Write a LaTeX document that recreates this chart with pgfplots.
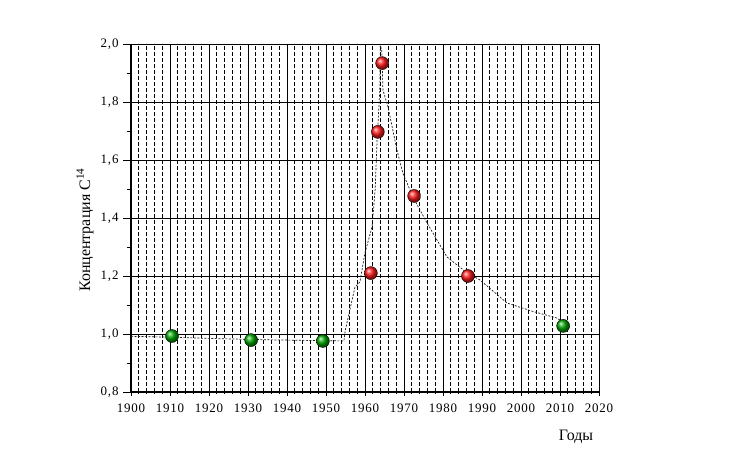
\documentclass[border=0pt]{standalone}
\usepackage{fontspec}
\setmainfont{Liberation Serif}
\newfontfamily\tickfont[LetterSpace=6]{Liberation Serif}
\usepackage{pgfplots}
\pgfplotsset{compat=1.18}
\usetikzlibrary{shadings}
\begin{document}
\begin{tikzpicture}[x=1bp,y=1bp]
\useasboundingbox (-131,-58) rectangle (603,392);
\begin{axis}[
  at={(0,0)}, anchor=south west,
  scale only axis, width=468bp, height=348bp,
  xmin=1900, xmax=2020, ymin=0.8, ymax=2.0,
  xtick={1900,1910,...,2020},
  ytick={0.8,1.0,...,2.01},
  minor x tick num=4,
  minor y tick num=1,
  xmajorgrids, ymajorgrids, xminorgrids,
  major grid style={black, line width=0.7bp},
  minor grid style={black, line width=0.7bp, dash pattern=on 3.5bp off 2.5bp},
  axis line style={black, line width=0.8bp},
  axis x line*=bottom, axis y line*=left,
  tick style={black, line width=0.8bp},
  xtick align=center, ytick align=outside,
  major tick length=8bp, minor tick length=4bp,
  xticklabel style={font=\tickfont\fontsize{13}{13}\selectfont, yshift=-4bp},
  yticklabel style={font=\tickfont\fontsize{13}{13}\selectfont, xshift=-1bp},
  /pgf/number format/assume math mode=true,
  /pgf/number format/.cd, use comma, fixed, fixed zerofill, precision=1,
  /tikz/.cd,
  xticklabel={\pgfmathprintnumber[precision=0,fixed zerofill=false,set thousands separator={}]{\tick}},
  clip=false,
]
% right and top borders
\draw[black, line width=0.7bp] (rel axis cs:1,0) -- (rel axis cs:1,1) -- (rel axis cs:0,1);
\draw[black, line width=1.6bp, dash pattern=on 3.5bp off 2.5bp] (axis cs:1954,0.8) -- (axis cs:1954,2.0);
\draw[black, line width=1.6bp] (rel axis cs:0,0) -- (rel axis cs:0,1);
\draw[black, line width=1.6bp] (rel axis cs:0,0) -- (rel axis cs:1,0);
% trend line
\addplot[draw=black!90, line width=0.7bp, dash pattern=on 2bp off 1.5bp, mark=none] coordinates {
(1900,0.992) (1910,0.989) (1922,0.984) (1935,0.980) (1954.6,0.976) (1954.9,1.01)
(1957.4,1.16) (1958.7,1.18) (1960,1.28) (1961.8,1.369) (1962.6,1.497) (1963.1,1.669)
(1963.8,1.841) (1963.9,1.995) (1964.3,1.979) (1964.6,1.841) (1965.9,1.783) (1968.2,1.634)
(1969.7,1.555) (1972.3,1.472) (1975.9,1.383) (1981.0,1.266) (1986.2,1.21) (1989.5,1.186)
(1996.4,1.107) (2003,1.078) (2009.2,1.055) (2010.8,1.041)
};
% green points
\addplot[only marks, mark=ball, mark size=6.5bp, mark options={ball color=green!65!black}] coordinates {
(1910.5,0.993) (1930.8,0.979) (1949.2,0.976) (2010.8,1.028)
};
% red points
\addplot[only marks, mark=ball, mark size=6.5bp, mark options={ball color=red!90!white}] coordinates {
(1961.5,1.21) (1963.3,1.697) (1964.4,1.934) (1972.6,1.476) (1986.4,1.2)
};
\end{axis}
\node[font=\fontsize{16}{16}\selectfont, rotate=90] at (-46,162) {Концентрация C\textsuperscript{14}};
\node[font=\fontsize{16}{16}\selectfont] at (445,-45) {Годы};
\end{tikzpicture}
\end{document}
